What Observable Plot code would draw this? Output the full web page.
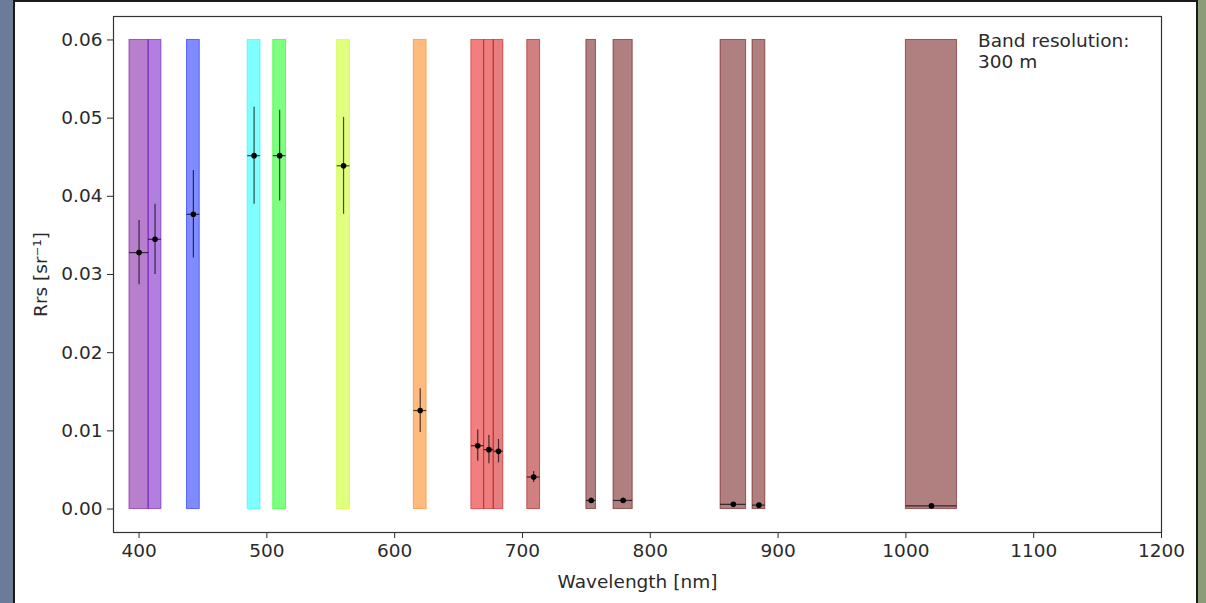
<!DOCTYPE html>
<html>
<head>
<meta charset="utf-8">
<script src="https://cdn.jsdelivr.net/npm/d3@7"></script>
<script src="https://cdn.jsdelivr.net/npm/@observablehq/plot@0.6"></script>
<style>
  html, body { margin: 0; padding: 0; width: 1206px; height: 603px; overflow: hidden; }
  body {
    background: linear-gradient(90deg, #6c7c98 0%, #75849c 40%, #7f8f86 70%, #8d9c78 100%);
    position: relative;
    font-family: "DejaVu Sans", sans-serif;
  }
  #card {
    position: absolute; left: 13px; top: 0px; width: 1185px; height: 603px;
    background: #fff; border-left: 2px solid #1a1a1a; border-right: 2px solid #1a1a1a; border-top: 2px solid #1a1a1a;
    box-sizing: border-box;
  }
  #chart { position: absolute; left: 0; top: 0; }
  #note {
    position: absolute; left: 978px; top: 30px; font-size: 18.5px; line-height: 21px; color: #2a2a2a;
    font-family: "DejaVu Sans", sans-serif;
  }
</style>
</head>
<body>
<div id="card"></div>
<div id="chart"></div>
<div id="note">Band resolution:<br>300 m</div>
<script>
// Band centre wavelengths (nm)
const wavelengths = [400, 412.5, 442.5, 490, 510, 560, 620, 665, 673.75, 681.25, 708.75, 753.75, 778.75, 865, 885, 1020];
// Band widths (nm)
const bandwidths = [15, 10, 10, 10, 10, 10, 10, 10, 7.5, 7.5, 10, 7.5, 15, 20, 10, 40];
// Rrs values (sr^-1)
const rrs = [0.0328, 0.0345, 0.0377, 0.0452, 0.0452, 0.0439, 0.0126, 0.0081, 0.0076, 0.0074, 0.0041, 0.0011, 0.0011, 0.0006, 0.0005, 0.0004];
// Rrs uncertainty (sr^-1)
const rrsErr = [0.0041, 0.0045, 0.0056, 0.0062, 0.0058, 0.0062, 0.0028, 0.0020, 0.0018, 0.0015, 0.0007, 0.0003, 0.0003, 0.0002, 0.0002, 0.0002];
// Axis ticks
const xTicks = [400, 500, 600, 700, 800, 900, 1000, 1100, 1200];
const yTicks = [0, 0.01, 0.02, 0.03, 0.04, 0.05, 0.06];
const bandTop = 0.06;

// Wavelength -> visible colour (style helper)
function wlColor(w) {
  const gamma = 0.8;
  let r = 0, g = 0, b = 0;
  const wc = Math.min(w, 750);
  if (wc >= 380 && wc < 440) {
    const att = 0.3 + 0.7 * (wc - 380) / 60;
    r = Math.pow((-(wc - 440) / 60) * att, gamma); b = Math.pow(att, gamma);
  } else if (wc < 490) {
    g = Math.pow((wc - 440) / 50, gamma); b = 1;
  } else if (wc < 510) {
    g = 1; b = Math.pow((510 - wc) / 20, gamma);
  } else if (wc < 580) {
    r = Math.pow((wc - 510) / 70, gamma); g = 1;
  } else if (wc < 645) {
    r = 1; g = Math.pow((645 - wc) / 65, gamma);
  } else {
    const att = 0.3 + 0.7 * (750 - wc) / 105;
    r = Math.pow(att, gamma);
  }
  return d3.rgb(r * 255, g * 255, b * 255).formatHex();
}

const bands = wavelengths.map((w, i) => ({
  w, half: bandwidths[i] / 2, v: rrs[i], e: rrsErr[i], color: wlColor(w)
}));

const chart = Plot.plot({
  width: 1206,
  height: 603,
  marginLeft: 113,
  marginRight: 45,
  marginTop: 16,
  marginBottom: 71,
  style: { fontFamily: "DejaVu Sans, sans-serif", fontSize: "18.5px", color: "#2a2a2a", background: "transparent" },
  x: { domain: [380, 1200], ticks: xTicks, tickSize: 6, tickPadding: 5, tickFormat: d3.format("d"), label: "Wavelength [nm]", labelAnchor: "center", labelArrow: "none", labelOffset: 55 },
  y: { domain: [-0.003, 0.063], ticks: yTicks, tickSize: 6, tickPadding: 5, tickFormat: d3.format(".2f"), label: "Rrs [sr⁻¹]", labelAnchor: "center", labelArrow: "none", labelOffset: 80 },
  marks: [
    Plot.rectY(bands, {
      x1: d => d.w - d.half, x2: d => d.w + d.half, y1: 0, y2: bandTop,
      fill: d => d.color, fillOpacity: 0.5, stroke: d => d.color, strokeOpacity: 0.55, strokeWidth: 1
    }),
    Plot.ruleX(bands, { x: "w", y1: d => d.v - d.e, y2: d => d.v + d.e, stroke: "#000", strokeOpacity: 0.7, strokeWidth: 1.2 }),
    Plot.ruleY(bands, { y: "v", x1: d => d.w - d.half, x2: d => d.w + d.half, stroke: "#000", strokeOpacity: 0.7, strokeWidth: 1.2 }),
    Plot.dot(bands, { x: "w", y: "v", r: 2.8, fill: "#000", stroke: "none" }),
    Plot.frame({ stroke: "#333", strokeWidth: 1.2 })
  ]
});
document.getElementById("chart").appendChild(chart);
</script>
</body>
</html>
